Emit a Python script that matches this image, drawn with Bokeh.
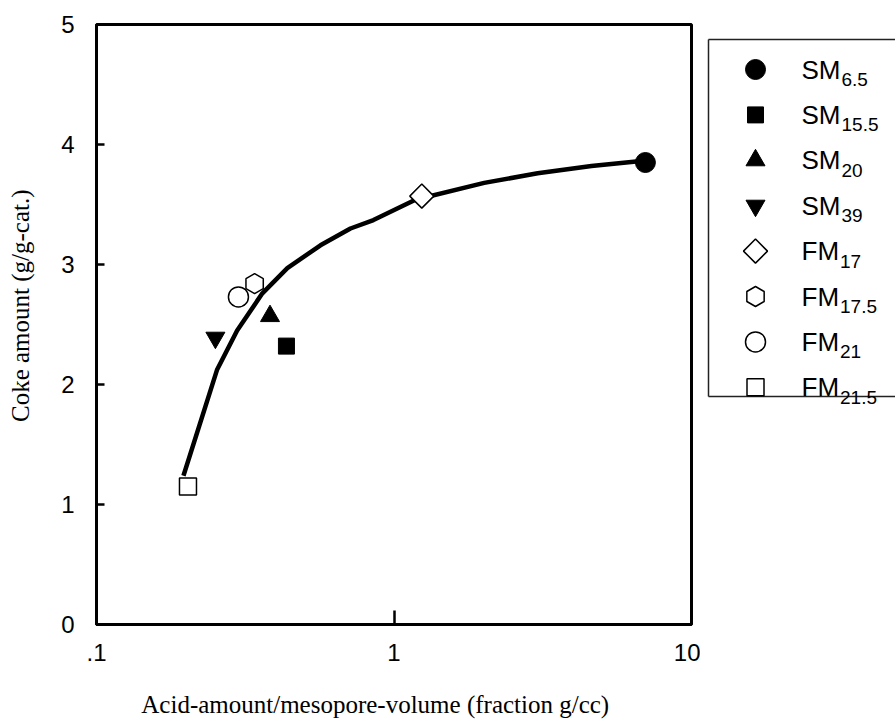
import numpy as np
from bokeh.plotting import figure
from bokeh.layouts import row
from bokeh.models import Range1d, FixedTicker, ColumnDataSource, CustomJSTickFormatter
from bokeh.core.properties import value
from bokeh.embed import file_html
from bokeh.resources import INLINE

# ---- data ----
curve_x = [0.196, 0.254, 0.297, 0.361, 0.438, 0.566, 0.714, 0.853, 1.18, 2.01, 3.04, 4.61, 6.64]
curve_y = [1.24, 2.12, 2.45, 2.76, 2.97, 3.16, 3.30, 3.37, 3.54, 3.68, 3.76, 3.82, 3.86]

sample_base = ["SM", "SM", "SM", "SM", "FM", "FM", "FM", "FM"]
sample_sub = ["6.5", "15.5", "20", "39", "17", "17.5", "21", "21.5"]
sample_x = [7.0, 0.435, 0.383, 0.251, 1.24, 0.340, 0.300, 0.203]
sample_y = [3.85, 2.32, 2.57, 2.39, 3.57, 2.84, 2.73, 1.15]

x_ticks = [0.1, 1, 10]
y_ticks = [0, 1, 2, 3, 4, 5]

# ---- styles ----
markers = ["circle", "square", "triangle", "inverted_triangle", "square", "hex", "circle", "square"]
angles = [0, 0, 0, 0, np.pi / 4, np.pi / 2, 0, 0]
sizes = [20, 16, 19, 19, 17, 20, 20, 17]
fills = ["black"] * 4 + ["white"] * 4
lws = [1, 1, 1, 1, 1.5, 1.5, 1.5, 1.5]

TOP, BOTTOM = 24, 98

p = figure(width=700, height=722, x_axis_type="log",
           x_range=Range1d(0.1, 10), y_range=Range1d(0, 5),
           output_backend="svg", toolbar_location=None,
           min_border_left=96, min_border_right=9,
           min_border_top=TOP, min_border_bottom=BOTTOM)
p.title.visible = False
p.grid.visible = False
p.outline_line_color = "black"
p.outline_line_width = 3
p.background_fill_color = "white"
p.border_fill_color = "white"

p.line(curve_x, curve_y, line_color="black", line_width=4.5)

src = ColumnDataSource(dict(x=sample_x, y=sample_y, marker=markers, angle=angles,
                            size=sizes, fill=fills, lw=lws))
p.scatter("x", "y", source=src, marker="marker", angle="angle", size="size",
          fill_color="fill", line_color="black", line_width="lw")

for ax in (p.xaxis[0], p.yaxis[0]):
    ax.axis_line_width = 3
    ax.axis_line_color = "black"
    ax.major_tick_line_width = 2.5
    ax.major_tick_line_color = "black"
    ax.minor_tick_line_color = None
    ax.major_tick_out = 0
    ax.major_label_text_font = "Liberation Sans"
    ax.major_label_text_font_size = "24px"
    ax.major_label_text_color = "black"
    ax.axis_label_text_font = "Liberation Serif"
    ax.axis_label_text_font_size = "25px"
    ax.axis_label_text_font_style = "normal"
    ax.axis_label_text_color = "black"

NB = "\u00a0"
p.xaxis.ticker = FixedTicker(ticks=x_ticks, minor_ticks=[])
p.xaxis.formatter = CustomJSTickFormatter(code="return tick < 0.5 ? '.1' : tick.toFixed(0);")
p.xaxis.major_tick_in = 14
p.xaxis.major_label_standoff = 19
p.xaxis.axis_label = "Acid-amount/mesopore-volume (fraction g/cc)" + NB * 6
p.xaxis.axis_label_standoff = 27

p.yaxis.ticker = FixedTicker(ticks=y_ticks, minor_ticks=[])
p.yaxis.major_tick_in = 8
p.yaxis.major_label_standoff = 22
p.yaxis.axis_label = NB * 6 + "Coke amount (g/g-cat.)"
p.yaxis.axis_label_standoff = 24

# ---- legend panel (pixel coordinates, y downward; frame aligned with main plot) ----
leg = figure(width=195, height=722, x_range=Range1d(0, 195), y_range=Range1d(722 - BOTTOM, TOP),
             output_backend="svg", toolbar_location=None,
             min_border_left=0, min_border_right=0,
             min_border_top=TOP, min_border_bottom=BOTTOM)
leg.title.visible = False
leg.axis.visible = False
leg.grid.visible = False
leg.outline_line_color = None
leg.background_fill_color = "white"
leg.border_fill_color = "white"

box_left, box_top, box_bottom = 8, 39, 396
leg.multi_line(xs=[[box_left, box_left], [box_left, 200], [box_left, 200]],
               ys=[[box_top, box_bottom], [box_top, box_top], [box_bottom, box_bottom]],
               line_color="#222222", line_width=1.5)

row0, row_gap = 69, 45.4
rows = [row0 + i * row_gap for i in range(len(sample_base))]
mk_x = [55] * len(rows)
lsrc = ColumnDataSource(dict(x=mk_x, y=rows, marker=markers, angle=[-a for a in angles],
                             size=sizes, fill=fills, lw=lws))
leg.scatter("x", "y", source=lsrc, marker="marker", angle="angle", size="size",
            fill_color="fill", line_color="black", line_width="lw")

main_fs = 26
sub_fs = 19
base_w = {"SM": (0.667 + 0.833) * main_fs, "FM": (0.611 + 0.833) * main_fs}
text_x = 101
leg.text(x=[text_x] * len(rows), y=rows, text=sample_base,
         text_font=value("Liberation Sans"), text_font_size=f"{main_fs}px",
         text_baseline="middle", text_align="left", text_color="black")
leg.text(x=[text_x + base_w[b] + 1 for b in sample_base], y=[r + 10 for r in rows], text=sample_sub,
         text_font=value("Liberation Sans"), text_font_size=f"{sub_fs}px",
         text_baseline="middle", text_align="left", text_color="black")

layout = row(p, leg, spacing=0)
open("out.html", "w").write(file_html(layout, INLINE))
